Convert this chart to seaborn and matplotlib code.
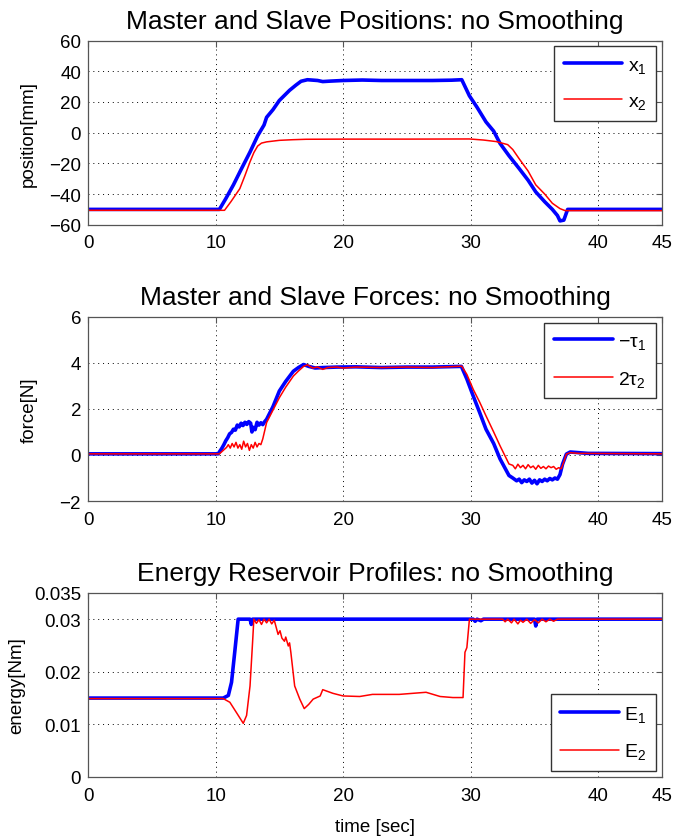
import matplotlib.pyplot as plt
import seaborn as sns
import numpy as np

# position data [mm]
t_x1 = [0, 10.3, 10.8, 11.4, 12.0, 12.7, 13.3, 13.8, 14.0, 14.5, 15.0, 15.8, 16.3, 16.7, 17.2,
        18.0, 18.4, 19.0, 20.0, 21.5, 23.0, 25.0, 27.0, 28.5, 29.3, 29.9, 30.5, 31.2, 31.8,
        32.3, 33.0, 33.8, 34.5, 35.1, 35.8, 36.4, 36.8, 37.0, 37.3, 37.6, 45]
x1 = [-50, -50, -43, -34, -24, -12.6, -2, 5, 10, 15, 21, 27.6, 31, 33.5, 34.5,
      34, 33.3, 33.6, 34, 34.3, 34, 34, 34, 34.2, 34.5, 24, 16.5, 7, 1,
      -7, -15, -23.4, -31, -38.6, -45, -50, -54, -57.5, -57, -50, -50]

t_x2 = [0, 10.7, 11.2, 11.9, 12.3, 12.7, 13.0, 13.3, 13.6, 14.0, 15.0, 16.0, 17.1, 20.0,
        25.0, 29.9, 31.0, 32.0, 32.9, 33.3, 33.8, 34.5, 35.1, 35.8, 36.4, 37.0, 37.4, 45]
x2 = [-50.6, -50.6, -45, -36.5, -28, -19, -13, -8.7, -6.8, -6, -5, -4.6, -4.3, -4.2,
      -4.2, -4.1, -4.8, -5.8, -7.8, -11, -17, -25, -34, -40, -46, -49.5, -50.8, -50.8]

# force data [N]
t_f1 = [0, 10.2, 10.5, 10.65, 10.8, 10.95, 11.1, 11.25, 11.4, 11.55, 11.7, 11.85, 12.0, 12.15,
        12.3, 12.45, 12.6, 12.75, 12.85, 12.95, 13.1, 13.25, 13.4, 13.55, 13.7, 13.85, 14.0,
        14.5, 15.0, 15.5, 16.1, 16.5, 16.9, 17.3, 17.8, 18.5, 19.5, 21, 23, 25, 27, 29.27,
        29.7, 30.2, 30.7, 31.2, 31.8, 32.3, 33.0, 33.3, 33.6, 33.8, 34.0, 34.2, 34.4, 34.6,
        34.8, 35.0, 35.2, 35.4, 35.6, 35.8, 36.0, 36.2, 36.4, 36.6, 36.8, 37.0, 37.2, 37.5,
        37.8, 38.5, 39.2, 45]
f1 = [0.05, 0.05, 0.30, 0.45, 0.62, 0.75, 0.92, 0.98, 1.12, 1.08, 1.3, 1.22, 1.38, 1.28,
      1.42, 1.33, 1.45, 1.38, 1.0, 1.2, 1.1, 1.42, 1.3, 1.4, 1.32, 1.45, 1.55,
      2.1, 2.78, 3.2, 3.64, 3.8, 3.93, 3.85, 3.78, 3.8, 3.82, 3.83, 3.8, 3.82, 3.82, 3.85,
      3.3, 2.56, 1.85, 1.12, 0.5, -0.17, -0.89, -1.0, -1.12, -1.05, -1.2, -1.08, -1.15, -1.05,
      -1.22, -1.1, -1.25, -1.08, -1.15, -1.05, -1.12, -1.02, -1.08, -1.0, -1.05, -0.85, -0.4, 0.04,
      0.13, 0.1, 0.07, 0.06]

t_f2 = [0, 10.3, 10.6, 10.86, 11.0, 11.15, 11.3, 11.45, 11.6, 11.75, 11.9, 12.05, 12.2, 12.35,
        12.5, 12.65, 12.8, 12.95, 13.1, 13.25, 13.4, 13.55, 13.7, 14.0, 14.5, 15.0, 15.5,
        16.1, 16.5, 16.9, 17.2, 17.6, 18.0, 18.4, 18.8, 19.5, 20.0, 21, 23, 25, 27, 29.3,
        29.7, 30.2, 30.7, 31.2, 31.8, 32.3, 32.7, 33.0, 33.3, 33.5, 33.7, 33.9, 34.1, 34.3,
        34.5, 34.7, 34.9, 35.1, 35.3, 35.5, 35.7, 35.9, 36.1, 36.3, 36.5, 36.7, 36.9, 37.1,
        37.3, 37.5, 37.8, 38.5, 45]
f2 = [0.05, 0.05, 0.2, 0.33, 0.45, 0.3, 0.5, 0.35, 0.55, 0.3, 0.45, 0.25, 0.6, 0.35,
      0.5, 0.2, 0.45, 0.3, 0.55, 0.35, 0.5, 0.45, 0.7, 1.41, 1.95, 2.49, 2.95,
      3.43, 3.65, 3.85, 3.92, 3.78, 3.82, 3.72, 3.8, 3.82, 3.78, 3.82, 3.8, 3.82, 3.8, 3.86,
      3.5, 2.85, 2.3, 1.7, 1.0, 0.4, -0.05, -0.39, -0.45, -0.6, -0.4, -0.55, -0.45, -0.6,
      -0.42, -0.55, -0.48, -0.62, -0.45, -0.58, -0.5, -0.6, -0.48, -0.55, -0.5, -0.62, -0.55, -0.6,
      -0.3, 0.04, 0.1, 0.07, 0.05]

# energy data [Nm]
t_e1 = [0, 10.6, 11.0, 11.25, 11.5, 11.77, 12.7, 12.8, 12.9, 30.2, 30.35, 30.5, 30.8, 31.0,
        35.0, 35.1, 35.2, 45]
e1 = [0.015, 0.015, 0.0155, 0.018, 0.0237, 0.03, 0.03, 0.029, 0.03, 0.03, 0.0296, 0.03, 0.0297, 0.03,
      0.03, 0.0287, 0.03, 0.03]

t_e2 = [0, 10.6, 11.12, 11.7, 12.17, 12.43, 12.7, 12.9, 13.0, 13.2, 13.4, 13.6, 13.8, 14.0,
        14.2, 14.4, 14.6, 14.9, 15.05, 15.2, 15.4, 15.5, 15.7, 15.8, 15.9, 16.2, 16.6, 16.95,
        17.3, 17.65, 18.2, 18.4, 19.2, 20.0, 21.3, 22.3, 24.4, 26.5, 27.6, 28.6, 29.4, 29.55,
        29.7, 29.9, 32.5, 32.7, 32.9, 33.2, 33.4, 33.7, 33.9, 34.1, 34.4, 34.7, 35.0, 35.3,
        35.6, 35.9, 36.2, 36.5, 36.8, 45]
e2 = [0.0149, 0.0149, 0.0142, 0.012, 0.0102, 0.0117, 0.0173, 0.0256, 0.03, 0.0292, 0.0299, 0.029, 0.03, 0.0293,
      0.03, 0.0291, 0.0298, 0.0271, 0.0278, 0.0264, 0.0258, 0.0266, 0.0249, 0.0255, 0.0237, 0.0173, 0.0148, 0.0130,
      0.0138, 0.0148, 0.0154, 0.0166, 0.0159, 0.0154, 0.0153, 0.0157, 0.0157, 0.0161, 0.0153, 0.0151, 0.0151, 0.0237,
      0.0246, 0.03, 0.03, 0.0295, 0.03, 0.0293, 0.03, 0.0291, 0.0298, 0.0294, 0.03, 0.0292, 0.0299, 0.0293,
      0.03, 0.0295, 0.03, 0.0296, 0.03, 0.03]

x_ticks = [0, 10, 20, 30, 40, 45]

sns.set_theme(style="white")
plt.rcParams.update({
    'font.family': ['Liberation Sans', 'DejaVu Sans'],
    'mathtext.default': 'regular',
    'text.color': 'black',
    'axes.labelcolor': 'black',
    'axes.titlecolor': 'black',
    'axes.edgecolor': '#555555',
    'axes.linewidth': 0.9,
    'xtick.direction': 'in',
    'ytick.direction': 'in',
    'xtick.top': True,
    'ytick.right': True,
    'xtick.major.size': 4,
    'ytick.major.size': 4,
    'xtick.major.width': 0.8,
    'ytick.major.width': 0.8,
    'xtick.major.pad': 7,
    'ytick.major.pad': 5,
    'xtick.color': '#555555',
    'ytick.color': '#555555',
    'xtick.labelcolor': 'black',
    'ytick.labelcolor': 'black',
    'xtick.labelsize': 13.5,
    'ytick.labelsize': 13.5,
})

fig = plt.figure(figsize=(6.92, 8.37), dpi=100)
ax1 = fig.add_axes([0.1272, 0.7303, 0.8295, 0.2200])
ax2 = fig.add_axes([0.1272, 0.4002, 0.8295, 0.2200])
ax3 = fig.add_axes([0.1272, 0.0705, 0.8295, 0.2200])

blue = '#0000ff'
red = '#ff0000'
leg_kw = dict(fontsize=14, handlelength=3.0, handletextpad=0.3, labelspacing=0.9,
              frameon=True, fancybox=False, edgecolor='#333333', framealpha=1,
              borderaxespad=0.3, borderpad=0.5)

def draw(ax, t_a, y_a, lab_a, t_b, y_b, lab_b):
    sns.lineplot(x=t_a, y=y_a, ax=ax, color=blue, lw=2.6, label=lab_a, sort=False, estimator=None)
    sns.lineplot(x=t_b, y=y_b, ax=ax, color=red, lw=1.1, label=lab_b, sort=False, estimator=None)
    ax.set_xlim(0, 45)
    ax.set_xticks(x_ticks)
    ax.grid(True, color='black', linestyle=(0, (1, 4)), linewidth=0.7)
    ax.set_xlabel('')

draw(ax1, t_x1, x1, 'x$_1$', t_x2, x2, 'x$_2$')
ax1.set_ylim(-60, 60)
ax1.set_yticks([-60, -40, -20, 0, 20, 40, 60])
ax1.set_ylabel('position[mm]', fontsize=13.5, labelpad=9)
ax1.set_title('Master and Slave Positions: no Smoothing', fontsize=19, pad=9)
ax1.legend(loc='upper right', **leg_kw)

draw(ax2, t_f1, f1, '\u2212\u03c4$_1$', t_f2, f2, '2\u03c4$_2$')
ax2.set_ylim(-2, 6)
ax2.set_yticks([-2, 0, 2, 4, 6])
ax2.set_ylabel('force[N]', fontsize=13.5, labelpad=16)
ax2.set_title('Master and Slave Forces: no Smoothing', fontsize=19, pad=9)
ax2.legend(loc='upper right', **leg_kw)

draw(ax3, t_e1, e1, 'E$_1$', t_e2, e2, 'E$_2$')
ax3.set_ylim(0, 0.035)
ax3.set_yticks([0, 0.01, 0.02, 0.03, 0.035])
ax3.set_yticklabels(['0', '0.01', '0.02', '0.03', '0.035'])
ax3.set_ylabel('energy[Nm]', fontsize=13.5, labelpad=6)
ax3.set_xlabel('time [sec]', fontsize=13.5, labelpad=10)
ax3.set_title('Energy Reservoir Profiles: no Smoothing', fontsize=19, pad=9)
ax3.legend(loc='lower right', **leg_kw)

fig.savefig('out.png', dpi=100)
